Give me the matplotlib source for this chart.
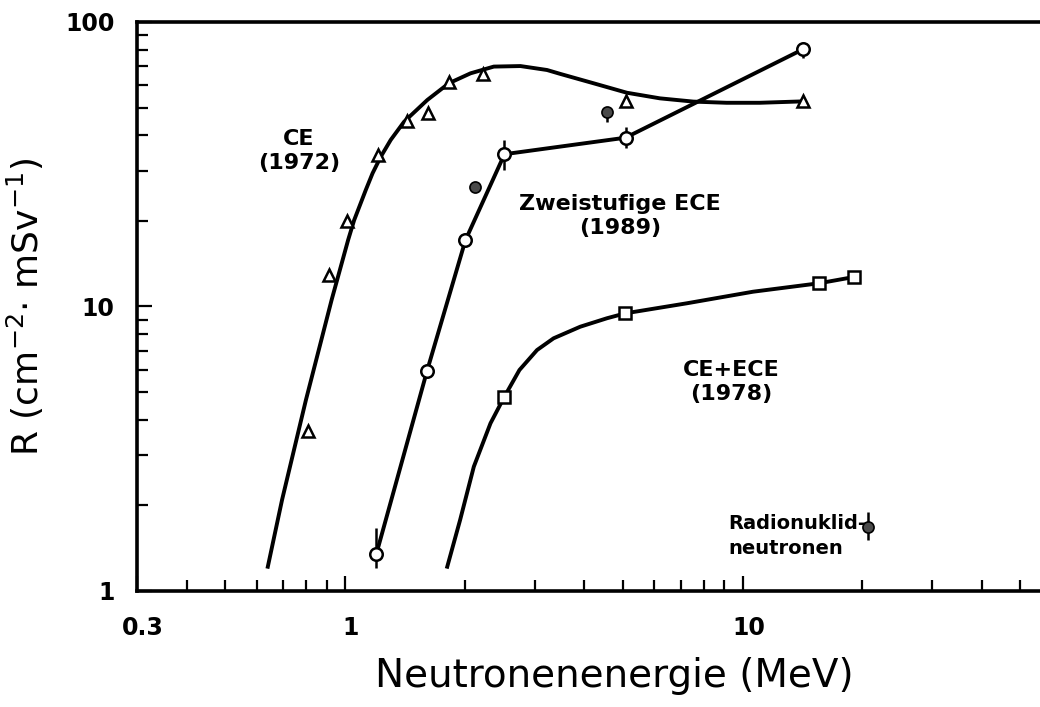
"""
Response of neutron dosimeters (CE, CE+ECE, two-stage ECE) vs. neutron energy.
Log-log chart, saved as out.png.
"""

import matplotlib

matplotlib.use("Agg")
import matplotlib.pyplot as plt
import matplotlib.transforms as mtransforms
from matplotlib.ticker import FixedLocator, LogLocator, NullFormatter

# --- CE (1972): measured points (triangles) and the drawn smooth curve
ce_energy = [0.806, 0.913, 1.01, 1.21, 1.43, 1.62, 1.83, 2.23, 5.08, 14.2]
ce_resp = [3.66, 12.9, 20.0, 34.0, 44.9, 47.8, 61.7, 65.6, 52.9, 52.9]
ce_curve_energy = [0.640, 0.695, 0.798, 0.926, 1.019, 1.055, 1.129, 1.174,
                   1.231, 1.304, 1.409, 1.612, 1.826, 2.070, 2.369, 2.764,
                   3.224, 3.48, 4.22, 5.12, 6.20, 7.52, 9.12, 11.05, 14.2]
ce_curve_resp = [1.217, 2.09, 4.69, 10.54, 17.13, 20.1, 25.7, 29.4,
                 33.6, 38.5, 44.6, 53.2, 60.9, 66.0, 69.7, 70.0,
                 67.8, 65.7, 60.9, 56.4, 53.9, 52.5, 52.0, 52.0, 52.6]

# --- two-stage ECE (1989): open circles with error bars
ece_energy = [1.20, 1.61, 2.01, 2.52, 5.08, 14.2]
ece_resp = [1.35, 5.95, 17.1, 34.3, 39.2, 80.2]
ece_lo = [1.205, 5.95, 17.1, 30.2, 36.1, 74.7]
ece_hi = [1.665, 5.95, 17.1, 38.5, 42.7, 80.2]

# --- CE+ECE (1978): squares and the drawn curve
cece_energy = [2.52, 5.07, 15.6, 19.1]
cece_resp = [4.82, 9.46, 12.07, 12.7]
cece_curve_energy = [1.809, 1.949, 2.110, 2.324, 2.519, 2.748, 3.043, 3.349,
                     3.908, 4.560, 5.07, 7.24, 10.63, 15.6, 19.1]
cece_curve_resp = [1.217, 1.777, 2.735, 3.886, 4.82, 5.98, 7.03, 7.73,
                   8.49, 9.09, 9.46, 10.26, 11.27, 12.07, 12.7]

# --- single measurements (filled circles)
extra_energy = [2.13, 4.57]
extra_resp = [26.2, 48.4]
extra_lo = [26.2, 44.5]
extra_hi = [26.2, 48.4]

radio_energy = [20.7]
radio_resp = [1.68]
radio_lo = [1.51]
radio_hi = [1.895]

x_ticks = [0.3, 1, 10]
x_tick_labels = ["0.3", "1", "10"]
y_ticks = [1, 10, 100]
y_tick_labels = ["1", "10", "100"]


def _err(vals, lo, hi):
    return [[v - a for v, a in zip(vals, lo)], [b - v for v, b in zip(vals, hi)]]


def main():
    fig = plt.figure(figsize=(10.4, 7.07), dpi=100)
    ax = fig.add_axes([0.1317, 0.1641, 0.8683, 0.8048])
    ax.set_xscale("log")
    ax.set_yscale("log")
    ax.set_xlim(0.3, 56)
    ax.set_ylim(1, 100)

    lw = 2.8
    # CE curve and triangles
    ax.plot(ce_curve_energy, ce_curve_resp, color="black", lw=lw, zorder=2,
            solid_joinstyle="round")
    ax.plot(ce_energy, ce_resp, ls="none", marker="^", ms=9, mfc="white",
            mec="black", mew=1.8, zorder=4)

    # two-stage ECE
    ax.errorbar(ece_energy, ece_resp, yerr=_err(ece_resp, ece_lo, ece_hi),
                fmt="-", color="black", lw=lw, elinewidth=1.8, capsize=0, zorder=2)
    ax.plot(ece_energy, ece_resp, ls="none", marker="o", ms=9, mfc="white",
            mec="black", mew=1.8, zorder=4)

    # CE+ECE
    ax.plot(cece_curve_energy, cece_curve_resp, color="black", lw=lw, zorder=2,
            solid_joinstyle="round")
    ax.plot(cece_energy, cece_resp, ls="none", marker="s", ms=8.5, mfc="white",
            mec="black", mew=1.8, zorder=4)

    # filled single points
    ax.errorbar(extra_energy, extra_resp, yerr=_err(extra_resp, extra_lo, extra_hi),
                fmt="o", ms=8, mfc="#4a4a4a", mec="black", mew=1.2,
                ecolor="black", elinewidth=1.8, capsize=0, zorder=4)
    ax.errorbar(radio_energy, radio_resp, yerr=_err(radio_resp, radio_lo, radio_hi),
                fmt="o", ms=8, mfc="#4a4a4a", mec="black", mew=1.2,
                ecolor="black", elinewidth=1.8, capsize=0, zorder=4)

    # annotations
    txt = dict(fontweight="bold", fontsize=16, ha="center", va="center",
               linespacing=1.3)
    ax.text(0.767, 35.2, "CE\n(1972)", **txt)
    ax.text(4.92, 20.8, "Zweistufige ECE\n(1989)", **txt)
    ax.text(9.35, 5.43, "CE+ECE\n(1978)", **txt)
    ax.text(9.19, 1.56, "Radionuklid-\nneutronen", fontweight="bold",
            fontsize=14, ha="left", va="center", linespacing=1.4)

    # axes styling
    for side in ("left", "bottom", "top"):
        ax.spines[side].set_linewidth(2.6)
    ax.spines["right"].set_visible(False)

    ax.xaxis.set_major_locator(FixedLocator(x_ticks))
    ax.set_xticklabels(x_tick_labels)
    ax.yaxis.set_major_locator(FixedLocator(y_ticks))
    ax.set_yticklabels(y_tick_labels)
    ax.xaxis.set_minor_locator(LogLocator(base=10, subs=range(2, 10), numticks=20))
    ax.yaxis.set_minor_locator(LogLocator(base=10, subs=range(2, 10), numticks=20))
    ax.xaxis.set_minor_formatter(NullFormatter())
    ax.yaxis.set_minor_formatter(NullFormatter())

    ax.tick_params(which="both", direction="in", top=False, right=False, width=1.6)
    ax.tick_params(which="major", length=11)
    ax.tick_params(which="minor", length=8)
    ax.tick_params(axis="x", which="major", pad=18)
    ax.tick_params(axis="y", which="major", pad=16)
    shift = mtransforms.ScaledTranslation(6 / 100, 0, fig.dpi_scale_trans)
    for lab in ax.get_xticklabels():
        lab.set_transform(lab.get_transform() + shift)
    for lab in ax.get_xticklabels() + ax.get_yticklabels():
        lab.set_fontweight("bold")
        lab.set_fontsize(17)

    ax.set_xlabel("Neutronenenergie (MeV)", fontsize=28)
    ax.xaxis.set_label_coords(0.529, -0.116)
    ax.set_ylabel(r"R (cm$^{-2}$$\cdot$ mSv$^{-1}$)", fontsize=26, labelpad=14)

    fig.savefig("out.png", dpi=100)
    plt.close(fig)


if __name__ == "__main__":
    main()
